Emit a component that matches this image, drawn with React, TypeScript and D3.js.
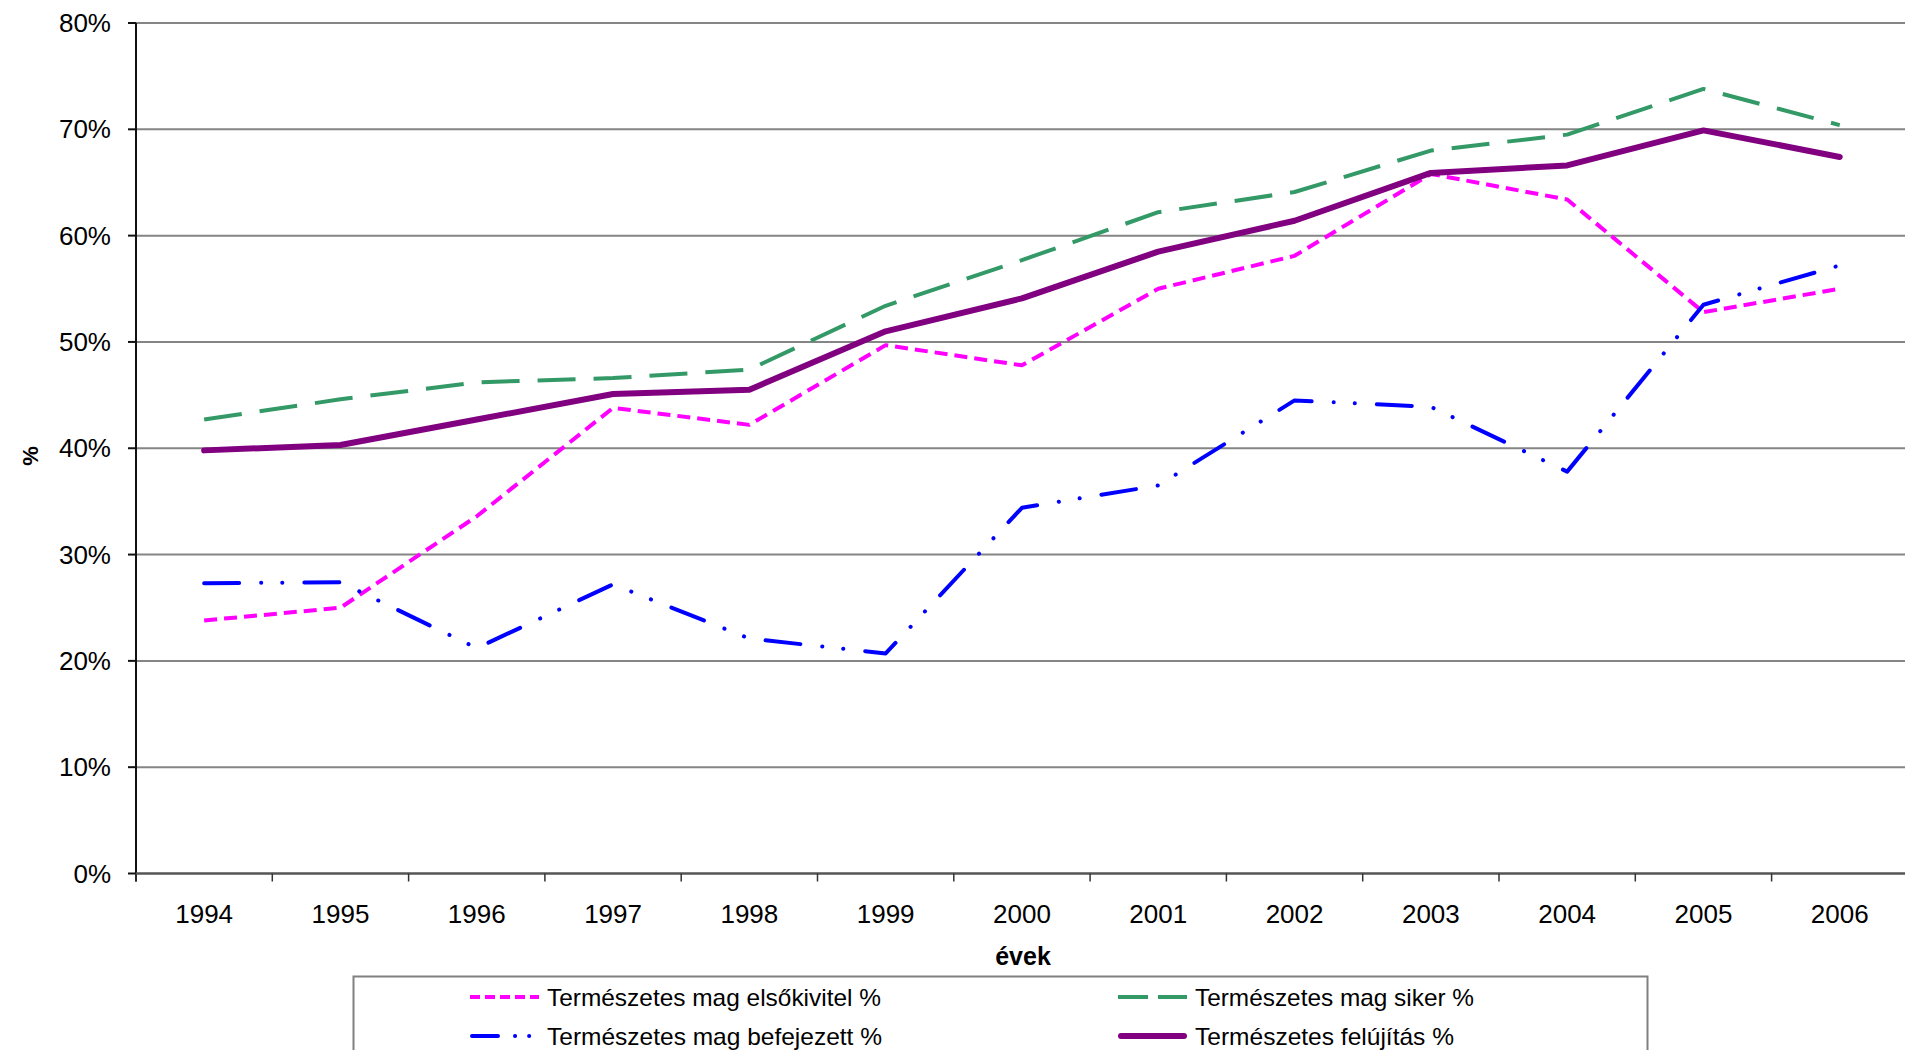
import React from "react";
import * as d3 from "d3";

// Years on the category axis
const years = ["1994", "1995", "1996", "1997", "1998", "1999", "2000", "2001", "2002", "2003", "2004", "2005", "2006"];

// Series values in percent
const elsokivitel = [23.8, 25.0, 33.6, 43.8, 42.2, 49.7, 47.8, 55.0, 58.1, 65.8, 63.4, 52.8, 55.0];
const siker = [42.7, 44.6, 46.2, 46.6, 47.4, 53.4, 57.7, 62.2, 64.1, 68.0, 69.5, 73.8, 70.4];
const befejezett = [27.3, 27.4, 21.2, 27.2, 22.1, 20.7, 34.4, 36.5, 44.5, 43.9, 37.8, 53.5, 57.2];
const felujitas = [39.8, 40.3, 42.7, 45.1, 45.5, 51.0, 54.1, 58.5, 61.4, 65.9, 66.6, 69.9, 67.4];

const seriesNames = [
  "Természetes mag elsőkivitel %",
  "Természetes mag siker %",
  "Természetes mag befejezett %",
  "Természetes felújítás %",
];

const yTicks = [0, 10, 20, 30, 40, 50, 60, 70, 80];

const W = 1905;
const H = 1050;
const left = 136;
const top = 23;
const bottom = 873.5;
const band = 136.3;

const FONT = "'Liberation Sans', Arial, sans-serif";

type Style = {
  color: string;
  width: number;
  dash?: string;
  cap: "butt" | "round";
  legendDash?: string;
  legendText: number;
};

const styles: Style[] = [
  { color: "#FF00FF", width: 4, dash: "13,7", cap: "butt", legendDash: "10,5", legendText: 334 },
  { color: "#339966", width: 4, dash: "38,18", cap: "butt", legendDash: "30,10", legendText: 279 },
  { color: "#0000FF", width: 4, dash: "35,22,0.1,21,0.1,22", cap: "round", legendDash: "26,17,0.1,14,0.1,40", legendText: 335 },
  { color: "#800080", width: 6, cap: "round", legendText: 259 },
];

export default function App() {
  const x = d3
    .scaleBand<string>()
    .domain(years)
    .range([left, left + band * years.length]);
  const y = d3.scaleLinear().domain([0, 80]).range([bottom, top]);

  const cx = (yr: string) => (x(yr) ?? 0) + x.bandwidth() / 2;

  const line = d3
    .line<number>()
    .x((_, i) => cx(years[i]))
    .y((v) => y(v));

  const allSeries = [elsokivitel, siker, befejezett, felujitas];

  const boundaries = d3.range(years.length + 1).map((k) => left + k * x.bandwidth());

  const legendCols = [470, 1118];
  const legendRows = [997, 1036];

  return (
    <svg
      width={W}
      height={H}
      style={{ position: "absolute", left: 0, top: 0, background: "#fff" }}
      fontFamily={FONT}
    >
      <rect x={0} y={0} width={W} height={H} fill="#fff" />

      {/* horizontal gridlines */}
      {yTicks.slice(1).map((t) => (
        <line key={"g" + t} x1={left} x2={W} y1={y(t)} y2={y(t)} stroke="#858585" strokeWidth={2} />
      ))}

      {/* y axis */}
      <line x1={left} x2={left} y1={top} y2={bottom + 8} stroke="#111" strokeWidth={2} />
      {yTicks.map((t) => (
        <g key={"yt" + t}>
          <line x1={left - 8} x2={left} y1={y(t)} y2={y(t)} stroke="#111" strokeWidth={2} />
          <text
            x={111}
            y={y(t)}
            textAnchor="end"
            dominantBaseline="central"
            fontSize={26}
            fill="#000"
          >
            {t + "%"}
          </text>
        </g>
      ))}

      {/* x axis */}
      <line x1={left} x2={W} y1={bottom} y2={bottom} stroke="#555" strokeWidth={2.5} />
      {boundaries.map((bx, i) => (
        <line key={"xt" + i} x1={bx} x2={bx} y1={bottom} y2={bottom + 8} stroke="#333" strokeWidth={1.5} />
      ))}
      {years.map((yr) => (
        <text key={yr} x={cx(yr)} y={914} textAnchor="middle" dominantBaseline="central" fontSize={26} fill="#000">
          {yr}
        </text>
      ))}

      {/* axis titles */}
      <text x={1023} y={956} textAnchor="middle" dominantBaseline="central" fontSize={25} fontWeight="bold" fill="#000">
        évek
      </text>
      <text
        transform={`translate(30,456) rotate(-90)`}
        textAnchor="middle"
        dominantBaseline="central"
        fontSize={22}
        fontWeight="bold"
        fill="#000"
      >
        %
      </text>

      {/* series */}
      {allSeries.map((vals, i) => (
        <path
          key={"s" + i}
          d={line(vals) ?? ""}
          fill="none"
          stroke={styles[i].color}
          strokeWidth={styles[i].width}
          strokeDasharray={styles[i].dash}
          strokeLinecap={styles[i].cap}
          strokeLinejoin="round"
        />
      ))}

      {/* legend */}
      <rect x={353.5} y={976.5} width={1294} height={120} fill="#fff" stroke="#808080" strokeWidth={2} />
      {seriesNames.map((name, i) => {
        const col = i % 2;
        const row = Math.floor(i / 2);
        const lx = legendCols[col];
        const ly = legendRows[row];
        const s = styles[i];
        const pad = s.cap === "round" ? s.width / 2 : 0;
        return (
          <g key={"lg" + i}>
            <line
              x1={lx + pad}
              x2={lx + 69 - pad}
              y1={ly}
              y2={ly}
              stroke={s.color}
              strokeWidth={s.width}
              strokeDasharray={s.legendDash}
              strokeLinecap={s.cap}
            />
            <text
              x={lx + 77}
              y={ly}
              dominantBaseline="central"
              fontSize={24}
              fill="#000"
              textLength={s.legendText}
              lengthAdjust="spacingAndGlyphs"
            >
              {name}
            </text>
          </g>
        );
      })}
    </svg>
  );
}
